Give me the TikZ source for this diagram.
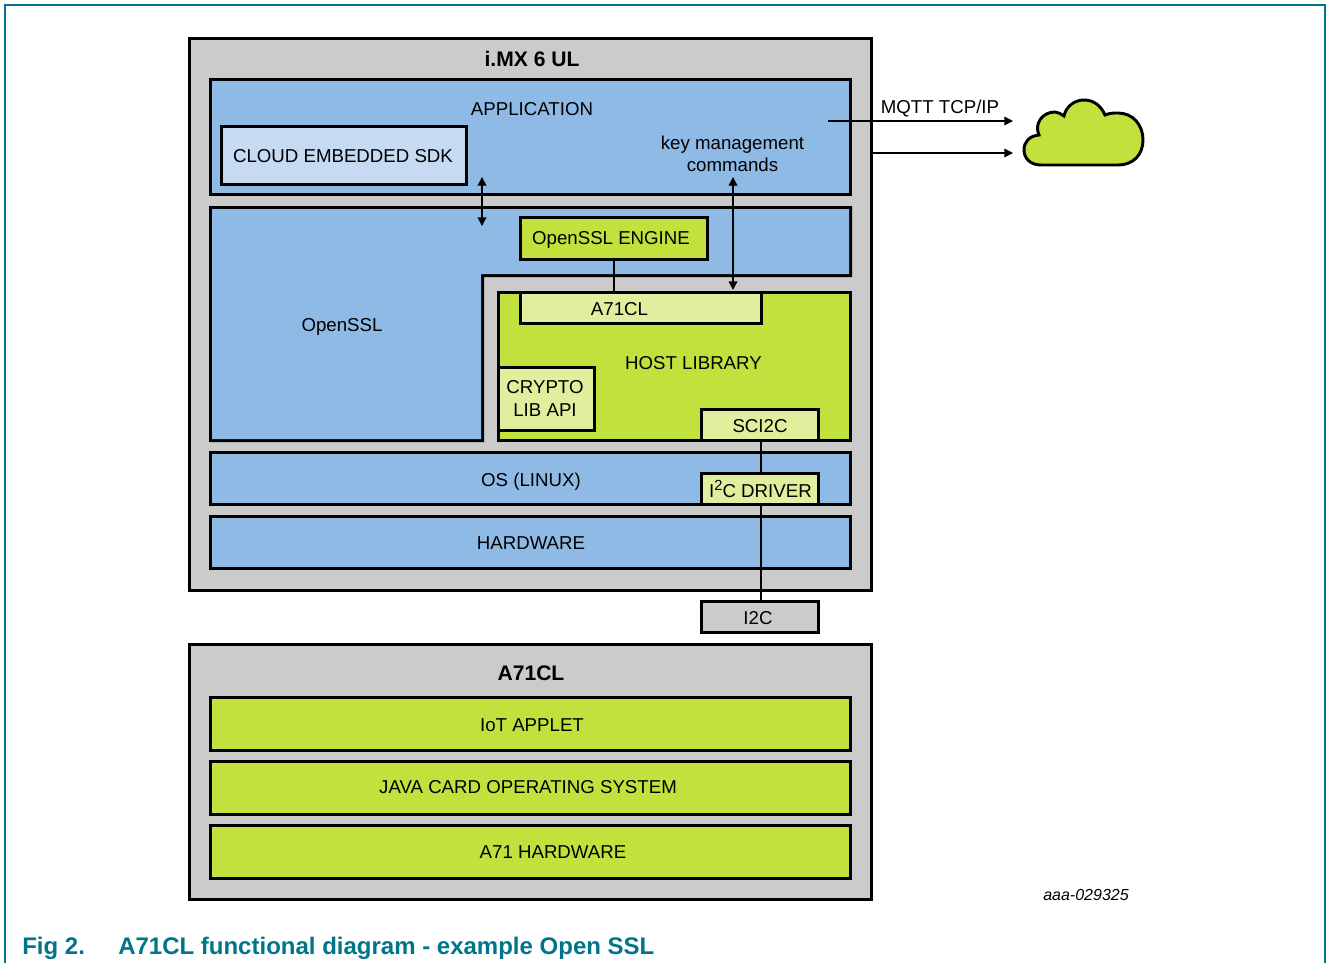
\documentclass[tikz,border=0pt]{standalone}
\usepackage{fontspec}
\setmainfont{Liberation Sans}
\usetikzlibrary{arrows.meta}
\definecolor{bluefill}{HTML}{8FBAE6}
\definecolor{lightblue}{HTML}{C6DAF2}
\definecolor{greyfill}{HTML}{CBCBCB}
\definecolor{limefill}{HTML}{C1E23C}
\definecolor{palelime}{HTML}{E0EE9E}
\definecolor{teal}{HTML}{00758A}
\tikzset{
 x=0.75pt,y=-0.75pt,
 frame/.style={fill=black,draw=none,anchor=north west,inner sep=0pt,outer sep=0pt},
 tag/.style={inner sep=0pt,align=center,text=black,font=\fontsize{14}{17}\selectfont},
 headtag/.style={inner sep=0pt,align=center,text=black,font=\fontsize{15.8}{18}\selectfont\bfseries},
 wire/.style={draw=black,line width=1pt},
 dbl/.style={wire,{Triangle[length=6.5pt,width=6.5pt]}-{Triangle[length=6.5pt,width=6.5pt]}},
 sgl/.style={wire,-{Triangle[length=6.5pt,width=6.5pt]}},
}
% name, x1, y1, x2, y2, colour: a 3px black frame with a coloured interior
\newcommand{\bx}[6]{%
 \node[frame,minimum width=#4*0.75pt-#2*0.75pt+1.5pt,minimum height=#5*0.75pt-#3*0.75pt+1.5pt] (#1) at (#2-1,#3-1) {};
 \fill[#6] (#2+2,#3+2) rectangle (#4-2,#5-2);}
\begin{document}
\begin{tikzpicture}
\useasboundingbox (0,0) rectangle (1327,963);
\fill[white] (0,0) rectangle (1327,963);
\draw[teal,line width=0.9pt] (5,975) -- (5,5) -- (1325,5) -- (1325,975);
\bx{imx}{189}{38}{872}{591}{greyfill}
\bx{app}{210}{79}{851}{195}{bluefill}
\bx{sdk}{221}{126}{467}{185}{lightblue}
\fill[black] (209,206) -- (852,206) -- (852,277) -- (484,277) -- (484,442) -- (209,442) -- cycle;
\fill[bluefill] (212,209) -- (849,209) -- (849,274) -- (481,274) -- (481,439) -- (212,439) -- cycle;
\bx{engine}{520}{217}{708}{260}{limefill}
\bx{host}{498}{292}{851}{441}{limefill}
\bx{a71lib}{520}{292}{762}{324}{palelime}
\bx{crypto}{498}{367}{595}{431}{palelime}
\bx{sci}{701}{409}{819}{441}{palelime}
\bx{os}{210}{452}{851}{505}{bluefill}
\bx{hw}{210}{516}{851}{569}{bluefill}
\bx{drv}{701}{473}{819}{505}{palelime}
\bx{i2c}{701}{601}{819}{633}{greyfill}
\bx{a71}{189}{644}{872}{900}{greyfill}
\bx{applet}{210}{697}{851}{751}{limefill}
\bx{jcos}{210}{761}{851}{815}{limefill}
\bx{a71hw}{210}{825}{851}{879}{limefill}
% labels
\node[headtag] (t1) at (532,59) {i.MX 6 UL};
\node[tag] (t2) at (532,109) {APPLICATION};
\node[tag] (t3) at (732.5,154) {key management\\[-0.5pt]commands};
\node[tag] (t4) at (342,327) {OpenSSL};
\node[tag] (t5) at (619.5,309) {A71CL};
\node[tag] (t6) at (693.5,363) {HOST LIBRARY};
\node[tag] (t7) at (531,482) {OS (LINUX)};
\node[tag] (t8) at (531,543) {HARDWARE};
\node[tag] (t9) at (940,108.5) {MQTT TCP/IP};
\node[headtag] (t10) at (531,673) {A71CL};
\node[tag] (t11) at (532,725) {IoT APPLET};
\node[tag] (t12) at (528,787) {JAVA CARD OPERATING SYSTEM};
\node[tag] (t13) at (553,852) {A71 HARDWARE};
\node[tag] (t17) at (343,156) {CLOUD EMBEDDED SDK};
\node[tag] (t18) at (611,240) {OpenSSL ENGINE};
\node[tag] (t19) at (545,398.5) {CRYPTO\\[0.3pt]LIB API};
\node[tag] (t20) at (760,426) {SCI2C};
\node[tag] (t21) at (760.5,489) {I\raisebox{0.42em}{\fontsize{11}{11}\selectfont 2}C DRIVER};
\node[tag] (t22) at (758,618) {I2C};
\node[inner sep=0pt,font=\itshape\fontsize{12}{14}\selectfont] (t14) at (1086,895) {aaa-029325};
\node[inner sep=0pt,anchor=west,text=teal,font=\bfseries\fontsize{18}{21}\selectfont] (t15) at (22,948) {Fig 2.};
\node[inner sep=0pt,anchor=west,text=teal,font=\bfseries\fontsize{18}{21}\selectfont] (t16) at (118,948) {A71CL functional diagram - example Open SSL};
% cloud
\draw[draw=black,line width=2.2pt,fill=limefill] (1041,165)
 .. controls (1030,165) and (1024,158) .. (1024,150)
 .. controls (1024,142) and (1029,136) .. (1039,135)
 .. controls (1034,124) and (1042,112) .. (1055,112)
 .. controls (1058,112) and (1061,114) .. (1064,116)
 .. controls (1066,106) and (1075,100) .. (1084,100)
 .. controls (1094,100) and (1101,106) .. (1105,115)
 .. controls (1110,113) and (1114,113) .. (1118,113)
 .. controls (1133,113) and (1143,125) .. (1143,140)
 .. controls (1143,155) and (1133,165) .. (1118,165) -- cycle;
\coordinate (c1) at (1013,121);
\coordinate (c2) at (1013,153);
\coordinate (m1) at (828,121);
\coordinate (m2) at (872,153);
\coordinate (u1) at (482,177);
\coordinate (u2) at (482,226);
\coordinate (k1) at (733,177);
\coordinate (k2) at (733,290);
\draw[sgl] (m1) -- (c1);
\draw[sgl] (m2) -- (c2);
\draw[dbl] (u1) -- (u2);
\draw[dbl] (k1) -- (k2);
\draw[wire] (engine.south) -- (engine.south |- a71lib.north);
\draw[wire] ([xshift=0.75pt]sci.south) -- ([xshift=0.75pt]drv.north);
\draw[wire] ([xshift=0.75pt]drv.south) -- ([xshift=0.75pt]i2c.north);
\end{tikzpicture}
\end{document}
